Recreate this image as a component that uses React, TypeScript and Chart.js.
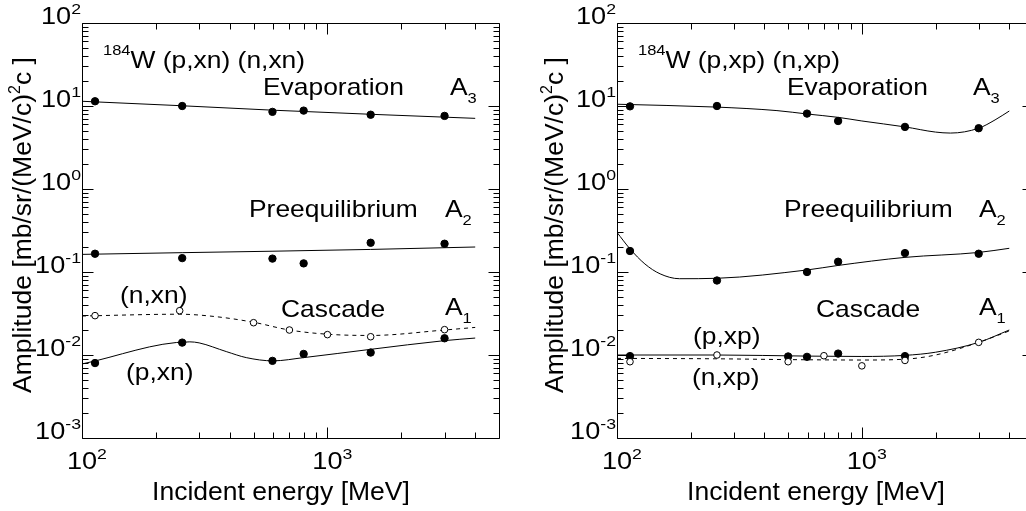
import React, { useEffect, useRef } from 'react';
import { Chart, registerables } from 'chart.js';

Chart.register(...registerables);

const FONT = "'Liberation Sans', Arial, Helvetica, sans-serif";

// ---------- axis ticks ----------
const X_MAJOR = [100, 1000];
const X_MINOR = [200, 300, 400, 500, 600, 700, 800, 900, 2000, 3000, 4000];
const Y_MAJOR_EXP = [-3, -2, -1, 0, 1, 2];
const X_LABEL_EXP = [2, 3];

// ---------- left panel: 184W (p,xn) (n,xn) ----------
const pEnergiesL = [113, 256, 597, 800, 1500, 3000];
const nEnergiesL = [113, 250, 500, 700, 1000, 1500, 3000];
const evapL = [11.4, 10.0, 8.5, 8.8, 7.85, 7.6];
const preqL = [0.166, 0.147, 0.145, 0.127, 0.225, 0.219];
const cascPxn = [0.008, 0.0141, 0.0085, 0.0103, 0.0107, 0.0159];
const cascNxn = [0.0298, 0.0342, 0.0245, 0.02, 0.0176, 0.0166, 0.0202];

const fitEvapLx = [100, 250, 600, 1500, 4000];
const fitEvapLy = [11.4, 10.1, 8.9, 7.95, 7.1];
const fitPreqLx = [100, 256, 600, 1500, 4000];
const fitPreqLy = [0.163, 0.171, 0.178, 0.187, 0.2];
const fitNxnX = [100, 250, 350, 500, 700, 1000, 1500, 3000, 4000];
const fitNxnY = [0.0295, 0.031, 0.029, 0.0248, 0.02, 0.0178, 0.0172, 0.02, 0.0215];
const fitPxnX = [100, 275, 300, 387, 467, 600, 800, 1500, 3000, 4000];
const fitPxnY = [0.0078, 0.0144, 0.014, 0.011, 0.0093, 0.0085, 0.0093, 0.0117, 0.0149, 0.016];

// ---------- right panel: 184W (p,xp) (n,xp) ----------
const pEnergiesR = [113, 256, 597, 800, 1500, 3000];
const evapR = [9.9, 10.0, 8.1, 6.6, 5.6, 5.4];
const preqR = [0.179, 0.079, 0.1, 0.133, 0.169, 0.166];
const pxpEnergies = [113, 500, 597, 800, 1500];
const cascPxp = [0.0097, 0.0096, 0.0095, 0.0104, 0.0097];
const nxpEnergies = [113, 256, 500, 700, 1000, 1500, 3000];
const cascNxp = [0.0083, 0.01, 0.0083, 0.0098, 0.0074, 0.0086, 0.0142];

const fitEvapRx = [100, 256, 450, 600, 800, 1000, 1500, 2000, 2300, 3000, 3500, 4000];
const fitEvapRy = [10.5, 9.7, 8.8, 8.0, 7.3, 6.6, 5.6, 4.85, 4.72, 5.4, 6.8, 8.7];
const fitPreqRx = [100, 113, 130, 150, 180, 256, 600, 800, 1500, 3000, 4000];
const fitPreqRy = [0.3, 0.19, 0.125, 0.095, 0.083, 0.084, 0.106, 0.12, 0.15, 0.172, 0.193];
const fitPxpX = [100, 256, 600, 1000, 1500, 2000, 3000, 4000];
const fitPxpY = [0.01, 0.01, 0.0097, 0.0096, 0.0099, 0.0108, 0.0142, 0.02];
const fitNxpX = [100, 256, 500, 1000, 1500, 2000, 3000, 4000];
const fitNxpY = [0.0091, 0.009, 0.0088, 0.0087, 0.0089, 0.01, 0.0142, 0.0195];

type Seg = { t: string; k?: 'sup' | 'sub' };
type Label = { segs: Seg[]; x: number; y: number };
type Style = { size: number; small: number; sup: number; sub: number; sx: number };

const TICK_STYLE: Style = { size: 23, small: 15, sup: 10, sub: 0, sx: 1.18 };
const NOTE_STYLE: Style = { size: 24, small: 15, sup: 13, sub: 8, sx: 1.1 };
const TITLE_STYLE: Style = { size: 26.5, small: 16, sup: 11, sub: 0, sx: 1 };

const zip = (xs: number[], ys: number[]) => xs.map((x, i) => ({ x, y: ys[i] }));

function curve(xs: number[], ys: number[], dashed = false) {
  return {
    data: zip(xs, ys),
    borderColor: '#000',
    borderWidth: 1,
    borderDash: dashed ? [4, 4] : [],
    pointRadius: 0,
    fill: false,
    cubicInterpolationMode: 'monotone' as const,
    order: 3,
  };
}

function dots(xs: number[], ys: number[], open = false) {
  return {
    data: zip(xs, ys),
    showLine: false,
    pointStyle: 'circle' as const,
    pointRadius: open ? 3.3 : 3.7,
    pointBorderWidth: 1,
    pointBorderColor: '#000',
    pointBackgroundColor: open ? '#fff' : '#000',
    borderColor: '#000',
    order: open ? 0 : 1,
  };
}

function measureRich(ctx: CanvasRenderingContext2D, segs: Seg[], st: Style) {
  let w = 0;
  for (const s of segs) {
    ctx.font = `${s.k ? st.small : st.size}px ${FONT}`;
    w += ctx.measureText(s.t).width;
  }
  return w * st.sx;
}

function drawRich(ctx: CanvasRenderingContext2D, segs: Seg[], x: number, y: number, st: Style) {
  ctx.save();
  ctx.translate(x, y);
  ctx.scale(st.sx, 1);
  let cx = 0;
  for (const s of segs) {
    ctx.font = `${s.k ? st.small : st.size}px ${FONT}`;
    const dy = s.k === 'sup' ? -st.sup : s.k === 'sub' ? st.sub : 0;
    ctx.fillText(s.t, cx, dy);
    cx += ctx.measureText(s.t).width;
  }
  ctx.restore();
}

const Y_TITLE: Seg[] = [{ t: 'Amplitude [mb/sr/(MeV/c)' }, { t: '2', k: 'sup' }, { t: 'c ]' }];
const X_TITLE: Seg[] = [{ t: 'Incident energy [MeV]' }];

function makeFrame(labels: Label[], xTitleCx: number, yTitleX: number, yTitleCy: number) {
  return {
    id: 'frame',
    afterDraw(chart: any) {
      const { ctx, chartArea: a, scales } = chart;
      const xs = scales.x;
      const ys = scales.y;
      ctx.save();
      ctx.strokeStyle = '#000';
      ctx.fillStyle = '#000';
      ctx.lineWidth = 1;
      ctx.setLineDash([]);
      ctx.textAlign = 'left';
      ctx.textBaseline = 'alphabetic';
      const L = Math.round(a.left) + 0.5;
      const R = Math.round(a.right) + 0.5;
      const T = Math.round(a.top) + 0.5;
      const B = Math.round(a.bottom) + 0.5;
      ctx.beginPath();
      ctx.rect(L, T, R - L, B - T);
      ctx.stroke();
      const line = (x1: number, y1: number, x2: number, y2: number) => {
        ctx.beginPath();
        ctx.moveTo(x1, y1);
        ctx.lineTo(x2, y2);
        ctx.stroke();
      };
      // x ticks (inward, bottom and top)
      const xt = (v: number, len: number) => {
        const p = Math.round(xs.getPixelForValue(v)) + 0.5;
        line(p, B, p, B - len);
        line(p, T, p, T + len);
      };
      X_MAJOR.forEach((v) => xt(v, 11));
      X_MINOR.forEach((v) => xt(v, 6));
      // y ticks (inward, left and right)
      const yt = (v: number, len: number) => {
        const p = Math.round(ys.getPixelForValue(v)) + 0.5;
        line(L, p, L + len, p);
        line(R, p, R - len, p);
      };
      Y_MAJOR_EXP.forEach((e) => {
        yt(Math.pow(10, e), 11);
        if (e < 2) for (let m = 2; m <= 9; m++) yt(m * Math.pow(10, e), 6);
      });
      // y tick labels
      Y_MAJOR_EXP.forEach((e) => {
        const py = ys.getPixelForValue(Math.pow(10, e));
        const segs: Seg[] = [{ t: '10' }, { t: String(e), k: 'sup' }];
        const w = measureRich(ctx, segs, TICK_STYLE);
        drawRich(ctx, segs, a.left - 1 - w, py + 1, TICK_STYLE);
      });
      // x tick labels
      X_LABEL_EXP.forEach((e) => {
        const px = xs.getPixelForValue(Math.pow(10, e));
        const w10 = measureRich(ctx, [{ t: '10' }], TICK_STYLE);
        drawRich(ctx, [{ t: '10' }, { t: String(e), k: 'sup' }], px - w10 / 2, 469, TICK_STYLE);
      });
      // x title
      const wx = measureRich(ctx, X_TITLE, TITLE_STYLE);
      drawRich(ctx, X_TITLE, xTitleCx - wx / 2, 500, TITLE_STYLE);
      // y title
      ctx.save();
      ctx.translate(yTitleX, yTitleCy);
      ctx.rotate(-Math.PI / 2);
      const wy = measureRich(ctx, Y_TITLE, TITLE_STYLE);
      drawRich(ctx, Y_TITLE, -wy / 2, 0, TITLE_STYLE);
      ctx.restore();
      // annotations
      labels.forEach((lb) => drawRich(ctx, lb.segs, lb.x, lb.y, NOTE_STYLE));
      ctx.restore();
    },
  };
}

const LEFT_LABELS: Label[] = [
  { segs: [{ t: '184', k: 'sup' }, { t: 'W (p,xn) (n,xn)' }], x: 103, y: 68 },
  { segs: [{ t: 'Evaporation' }], x: 263, y: 95 },
  { segs: [{ t: 'A' }, { t: '3', k: 'sub' }], x: 450, y: 95 },
  { segs: [{ t: 'Preequilibrium' }], x: 249, y: 217 },
  { segs: [{ t: 'A' }, { t: '2', k: 'sub' }], x: 445, y: 217 },
  { segs: [{ t: '(n,xn)' }], x: 120, y: 303 },
  { segs: [{ t: 'Cascade' }], x: 281, y: 317 },
  { segs: [{ t: 'A' }, { t: '1', k: 'sub' }], x: 445, y: 315 },
  { segs: [{ t: '(p,xn)' }], x: 126, y: 380 },
];

const RO = 520;
const RIGHT_LABELS: Label[] = [
  { segs: [{ t: '184', k: 'sup' }, { t: 'W (p,xp) (n,xp)' }], x: 638 - RO, y: 68 },
  { segs: [{ t: 'Evaporation' }], x: 787 - RO, y: 95 },
  { segs: [{ t: 'A' }, { t: '3', k: 'sub' }], x: 973 - RO, y: 95 },
  { segs: [{ t: 'Preequilibrium' }], x: 784 - RO, y: 217 },
  { segs: [{ t: 'A' }, { t: '2', k: 'sub' }], x: 979 - RO, y: 217 },
  { segs: [{ t: 'Cascade' }], x: 816 - RO, y: 317 },
  { segs: [{ t: 'A' }, { t: '1', k: 'sub' }], x: 979 - RO, y: 315 },
  { segs: [{ t: '(p,xp)' }], x: 693 - RO, y: 344 },
  { segs: [{ t: '(n,xp)' }], x: 692 - RO, y: 385 },
];

function buildChart(canvas: HTMLCanvasElement, datasets: any[], yWidth: number, padRight: number, plugin: any) {
  return new Chart(canvas, {
    type: 'line',
    data: { datasets },
    options: {
      responsive: false,
      animation: false,
      devicePixelRatio: 1,
      layout: { padding: { top: 23, right: padRight, left: 0, bottom: 0 } },
      plugins: { legend: { display: false }, tooltip: { enabled: false } },
      scales: {
        x: {
          type: 'logarithmic',
          min: 100,
          max: 5000,
          ticks: { display: false },
          grid: { display: false },
          border: { display: false },
          afterFit: (s: any) => {
            s.height = 73;
          },
        },
        y: {
          type: 'logarithmic',
          min: 0.001,
          max: 100,
          ticks: { display: false },
          grid: { display: false },
          border: { display: false },
          afterFit: (s: any) => {
            s.width = yWidth;
          },
        },
      },
    },
    plugins: [plugin],
  } as any);
}

export default function App() {
  const leftRef = useRef<HTMLCanvasElement>(null);
  const rightRef = useRef<HTMLCanvasElement>(null);

  useEffect(() => {
    const left = buildChart(
      leftRef.current!,
      [
        dots(nEnergiesL, cascNxn, true),
        dots(pEnergiesL, evapL),
        dots(pEnergiesL, preqL),
        dots(pEnergiesL, cascPxn),
        curve(fitEvapLx, fitEvapLy),
        curve(fitPreqLx, fitPreqLy),
        curve(fitNxnX, fitNxnY, true),
        curve(fitPxnX, fitPxnY),
      ],
      82,
      21,
      makeFrame(LEFT_LABELS, 281, 31, 225)
    );
    const right = buildChart(
      rightRef.current!,
      [
        dots(nxpEnergies, cascNxp, true),
        dots(pEnergiesR, evapR),
        dots(pEnergiesR, preqR),
        dots(pxpEnergies, cascPxp),
        curve(fitEvapRx, fitEvapRy),
        curve(fitPreqRx, fitPreqRy),
        curve(fitPxpX, fitPxpY),
        curve(fitNxpX, fitNxpY, true),
      ],
      97,
      7,
      makeFrame(RIGHT_LABELS, 816 - RO, 563 - RO, 225)
    );
    return () => {
      left.destroy();
      right.destroy();
    };
  }, []);

  return (
    <div style={{ position: 'fixed', left: 0, top: 0, width: 1026, height: 511, overflow: 'hidden', background: '#fff' }}>
      <canvas ref={leftRef} width={520} height={511} style={{ position: 'absolute', left: 0, top: 0, display: 'block' }} />
      <canvas ref={rightRef} width={520} height={511} style={{ position: 'absolute', left: RO, top: 0, display: 'block' }} />
    </div>
  );
}
